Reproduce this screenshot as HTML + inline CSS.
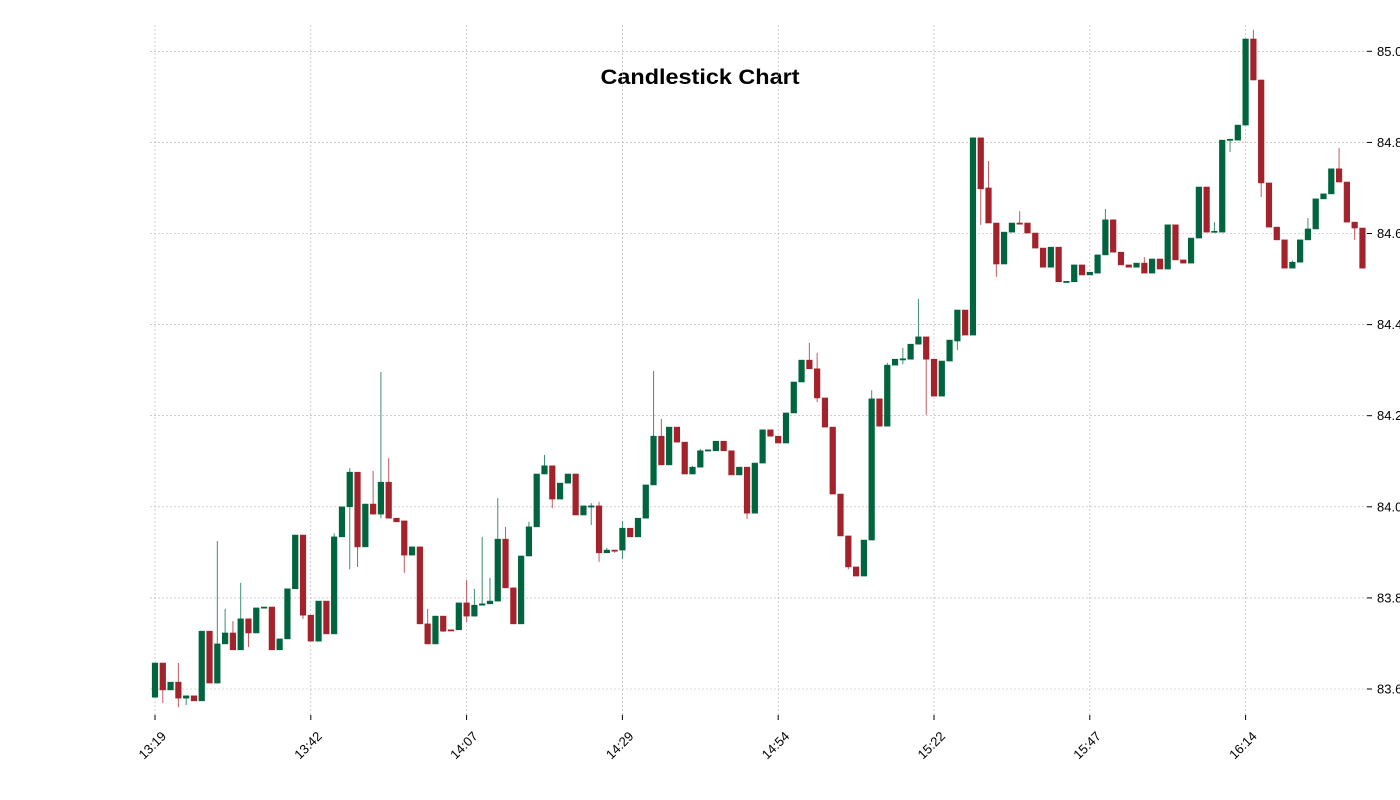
<!DOCTYPE html>
<html><head><meta charset="utf-8"><title>Candlestick Chart</title>
<style>
html,body{margin:0;padding:0;background:#fff;width:1400px;height:800px;overflow:hidden;}
svg{display:block;font-family:"Liberation Sans",sans-serif;}
</style></head>
<body>
<svg id="chart" width="1400" height="800" viewBox="0 0 1400 800" xmlns="http://www.w3.org/2000/svg">
<text x="700" y="84" text-anchor="middle" font-size="21" font-weight="bold" fill="#000" textLength="199" lengthAdjust="spacingAndGlyphs">Candlestick Chart</text>
<g id="grid"></g>
<g id="candles"></g>
<g id="yaxis"></g>
<g id="xaxis"></g>
</svg>
<script>
const opens=[83.582,83.657,83.598,83.615,83.580,83.585,83.574,83.727,83.613,83.699,83.723,83.686,83.754,83.723,83.778,83.780,83.686,83.710,83.820,83.938,83.762,83.705,83.793,83.721,83.934,84.000,84.076,83.912,84.006,83.984,84.054,83.975,83.969,83.894,83.912,83.743,83.699,83.760,83.730,83.730,83.789,83.760,83.784,83.787,83.793,83.929,83.822,83.743,83.892,83.956,84.072,84.090,84.017,84.052,84.072,83.982,84.001,84.002,83.899,83.905,83.905,83.953,83.934,83.975,84.048,84.155,84.092,84.175,84.142,84.072,84.087,84.123,84.123,84.144,84.123,84.070,84.087,83.986,84.096,84.169,84.155,84.140,84.206,84.274,84.322,84.303,84.239,84.175,84.028,83.936,83.868,83.848,83.927,84.237,84.177,84.311,84.324,84.324,84.357,84.373,84.324,84.243,84.320,84.364,84.432,84.377,84.810,84.700,84.623,84.533,84.603,84.623,84.623,84.601,84.568,84.526,84.570,84.494,84.494,84.531,84.509,84.513,84.553,84.630,84.559,84.531,84.526,84.535,84.513,84.544,84.522,84.619,84.542,84.535,84.590,84.702,84.604,84.603,84.805,84.805,84.838,85.027,84.937,84.711,84.614,84.586,84.524,84.537,84.586,84.610,84.676,84.687,84.742,84.713,84.625,84.612];
const closes=[83.657,83.598,83.615,83.580,83.585,83.574,83.727,83.613,83.699,83.723,83.686,83.754,83.723,83.778,83.780,83.686,83.710,83.820,83.938,83.762,83.705,83.793,83.721,83.934,84.000,84.076,83.912,84.006,83.984,84.054,83.975,83.967,83.894,83.912,83.743,83.699,83.760,83.727,83.729,83.789,83.760,83.784,83.787,83.793,83.929,83.822,83.743,83.892,83.956,84.072,84.090,84.017,84.052,84.072,83.982,84.002,84.002,83.899,83.905,83.903,83.953,83.934,83.975,84.048,84.155,84.092,84.175,84.142,84.072,84.087,84.123,84.125,84.144,84.123,84.070,84.087,83.986,84.096,84.169,84.155,84.140,84.206,84.274,84.322,84.303,84.239,84.175,84.028,83.936,83.868,83.848,83.927,84.237,84.177,84.311,84.324,84.325,84.357,84.373,84.324,84.243,84.320,84.366,84.432,84.377,84.810,84.698,84.623,84.533,84.603,84.623,84.622,84.601,84.568,84.526,84.570,84.494,84.495,84.531,84.509,84.515,84.553,84.630,84.559,84.531,84.526,84.535,84.513,84.544,84.522,84.619,84.542,84.535,84.590,84.702,84.603,84.605,84.805,84.807,84.838,85.027,84.937,84.711,84.614,84.586,84.524,84.537,84.586,84.610,84.676,84.687,84.742,84.713,84.625,84.612,84.524];
// visible wick extremes: candle index + price (other candles have no wick beyond body)
const highIdx=[3,8,9,10,11,23,25,28,29,30,35,40,41,42,43,44,45,48,50,56,57,58,60,64,65,69,70,84,85,92,94,96,98,107,111,122,127,136,141,146,148,152];
const highVals=[83.657,83.925,83.776,83.749,83.833,83.942,84.085,84.079,84.296,84.107,83.776,83.839,83.820,83.934,83.844,84.019,83.956,83.967,84.114,84.008,84.011,83.910,83.969,84.298,84.193,84.090,84.127,84.360,84.338,84.256,84.316,84.349,84.456,84.759,84.649,84.654,84.548,84.625,85.047,84.541,84.634,84.788];
const lowIdx=[1,3,4,12,19,25,26,29,32,37,40,51,56,57,59,60,76,85,89,96,99,103,106,108,138,142,154];
const lowVals=[83.569,83.560,83.565,83.692,83.754,83.863,83.868,83.975,83.855,83.725,83.747,83.997,83.960,83.879,83.899,83.885,83.973,84.230,83.863,84.313,84.202,84.344,84.619,84.505,84.779,84.680,84.586];
const xTickIdx=[0,20,40,60,80,100,120,140];
const xTickLabels=["13:19","13:42","14:07","14:29","14:54","15:22","15:47","16:14"];
const yTicks=[83.6,83.8,84.0,84.2,84.4,84.6,84.8,85.0];

const NS="http://www.w3.org/2000/svg";
const X0=155, DX=7.79, LEFT=150, RIGHT=1367, TOP=25, BOTTOM=715;
function xScale(i){return X0+i*DX;}
function yScale(p){return 689-(p-83.6)*455.5;}
function mk(tag,attrs,parent){const e=document.createElementNS(NS,tag);for(const k in attrs)e.setAttribute(k,attrs[k]);parent.appendChild(e);return e;}
const grid=document.getElementById('grid'),cg=document.getElementById('candles'),ya=document.getElementById('yaxis'),xa=document.getElementById('xaxis');

yTicks.forEach(v=>{
  const y=yScale(v);
  const l=mk('line',{x1:LEFT,x2:RIGHT,y1:y,y2:y,stroke:'#b0b0b0','stroke-width':0.6,'stroke-dasharray':'2,2'},grid);
  
  
  const t=mk('line',{x1:RIGHT,x2:RIGHT+5,y1:y,y2:y,stroke:'#000','stroke-width':1},ya);
  
  
  const tx=mk('text',{x:1377,y:y+4.5,'font-size':13,fill:'#000'},ya);
  tx.textContent=v.toFixed(1);
  
  
});
xTickIdx.forEach((idx,k)=>{
  const x=xScale(idx);
  const l=mk('line',{x1:x,x2:x,y1:TOP,y2:BOTTOM,stroke:'#b0b0b0','stroke-width':0.6,'stroke-dasharray':'2,2'},grid);
  
  
  const t=mk('line',{x1:x,x2:x,y1:BOTTOM,y2:BOTTOM+5,stroke:'#000','stroke-width':1},xa);
  
  
  const ax=x+12, ay=BOTTOM+22;
  const tx=mk('text',{x:ax,y:ay,'font-size':13,fill:'#000','text-anchor':'end',transform:`rotate(-45 ${ax} ${ay})`},xa);
  tx.textContent=xTickLabels[k];
  
  
});
for(let i=0;i<opens.length;i++){
  const o=opens[i],c=closes[i];
  const up=c>=o;
  const col=up?'#00643f':'#a3222b';
  const wcol=up?'#3f8f6f':'#c05a60';
  const hk=highIdx.indexOf(i), lk=lowIdx.indexOf(i);
  const hi=hk>=0?highVals[hk]:Math.max(o,c);
  const lo=lk>=0?lowVals[lk]:Math.min(o,c);
  const x=xScale(i);
  if(hi>Math.max(o,c)||lo<Math.min(o,c)){
    const w=mk('line',{x1:x,x2:x,y1:yScale(hi),y2:yScale(lo),stroke:wcol,'stroke-width':1},cg);
    
    
  }
  const yt=yScale(Math.max(o,c)),yb=yScale(Math.min(o,c));
  const b=mk('rect',{x:x-2.8,y:yt,width:5.6,height:Math.max(1.2,yb-yt),fill:col,stroke:col,'stroke-width':0.6},cg);
  
  
}
</script>
</body></html>
